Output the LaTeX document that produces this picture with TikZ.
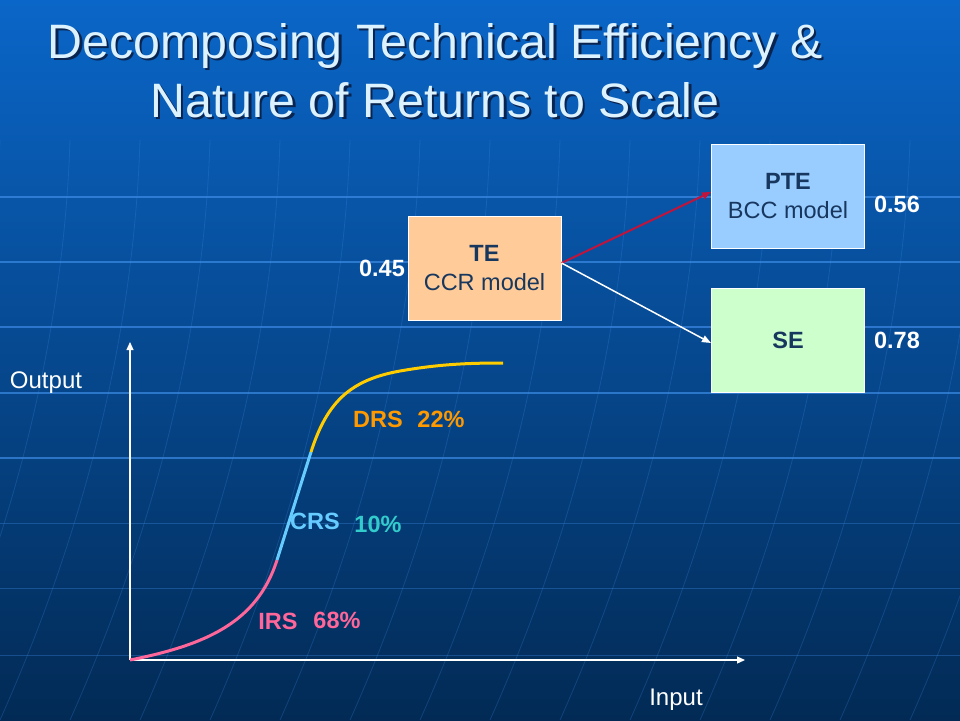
\documentclass[tikz,border=0pt]{standalone}
\usepackage{fontspec}
\setmainfont{Liberation Sans}
\usetikzlibrary{arrows.meta}
\definecolor{sininen1}{HTML}{0A66C8}
\definecolor{sininen2}{HTML}{04468F}
\definecolor{sininen3}{HTML}{022A55}
\definecolor{ruudukko}{HTML}{3D8BE6}
\definecolor{otsikko}{HTML}{DDF2FF}
\definecolor{varjo}{HTML}{0A2450}
\definecolor{persikka}{HTML}{FFCC99}
\definecolor{vaaleansininen}{HTML}{99CCFF}
\definecolor{vaaleanvihrea}{HTML}{CCFFCC}
\definecolor{tummansininen}{HTML}{17375E}
\definecolor{punainen}{HTML}{C0143C}
\definecolor{pinkki}{HTML}{FF6699}
\definecolor{taivas}{HTML}{66CCFF}
\definecolor{keltainen}{HTML}{FFCC00}
\definecolor{oranssi}{HTML}{FF9900}
\definecolor{turkoosi}{HTML}{33CCCC}
\newcommand{\varjoteksti}[1]{\makebox[0pt][l]{\hspace{2.5pt}\raisebox{-2.5pt}{\color{varjo}#1}}#1}

\tikzset{
	laatikko/.style={draw=white, line width=1pt, minimum width=153pt, minimum height=104pt,
		inner sep=0pt, text=tummansininen, align=center, font=\fontsize{23.5}{29.5}\selectfont},
	luku/.style={text=white, font=\fontsize{23.5}{28}\selectfont\bfseries},
	otsikkoteksti/.style={anchor=base, text=otsikko, font=\fontsize{48.3}{59}\selectfont},
	akseli/.style={white, line width=1.2pt, -{Triangle[length=8pt,width=7pt]}},
	akseliteksti/.style={text=white, font=\fontsize{24}{28}\selectfont},
	kaari/.style={line width=3pt},
	tyyppi/.style={font=\fontsize{23.5}{28}\selectfont\bfseries}
}

\begin{document}
\begin{tikzpicture}[x=1pt, y=-1pt]
				\useasboundingbox (0,0) rectangle (960,720);
				\shade[top color=sininen1, middle color=sininen2, bottom color=sininen3] (0,0) rectangle (960,720);
				% ruudukko
				\foreach \y in {197,262,327,393,458}
					\draw[ruudukko, line width=1.2pt, opacity=0.7] (0,\y) -- (960,\y);
				\foreach \y in {523,588,655}
					\draw[ruudukko, line width=1pt, opacity=0.35] (0,\y) -- (960,\y);
				\foreach \x in {0,70,...,1120}
					\draw[ruudukko, line width=0.8pt, opacity=0.25] (\x,140) .. controls (\x-6,327) and (\x-52,523) .. (\x-140,720);
				% otsikko
				\node[otsikkoteksti] (otsikko1) at (435,58) {\varjoteksti{Decomposing Technical Efficiency \&}};
				\node[otsikkoteksti] (otsikko2) at (435,117) {\varjoteksti{Nature of Returns to Scale}};
				% laatikot
				\node[laatikko, fill=persikka] (te) at (484.5,268) {\textbf{TE}\\CCR model};
				\node[laatikko, fill=vaaleansininen] (pte) at (788,196) {\textbf{PTE}\\BCC model};
				\node[laatikko, fill=vaaleanvihrea] (se) at (788,340) {\textbf{SE}};
				\node[luku] (teluku) at (382,268) {0.45};
				\node[luku] (pteluku) at (897,204) {0.56};
				\node[luku] (seluku) at (897,340) {0.78};
				\draw[punainen, line width=2pt, -{Triangle[length=9pt,width=7pt]}] ([yshift=5pt]te.east) -- ([yshift=4pt]pte.west);
				\draw[white, line width=1.5pt, -{Triangle[length=9pt,width=7pt]}] ([yshift=5pt]te.east) -- ([yshift=-3pt]se.west);
				% kuvaaja
				\coordinate (origo) at (130,660);
				\coordinate (ylos) at (130,342);
				\coordinate (oikea) at (745,660);
				\draw[akseli] (origo) -- (ylos);
				\draw[akseli] (origo) -- (oikea);
				\node[akseliteksti] (output) at (46,383) {Output};
				\node[akseliteksti] (input) at (676,700) {Input};
				\coordinate (irsloppu) at (277,560);
				\coordinate (crsloppu) at (311,452);
				\draw[kaari, pinkki] (origo) .. controls (205,645) and (257,623) .. (irsloppu);
				\draw[kaari, taivas] (irsloppu) -- (crsloppu);
				\draw[kaari, keltainen] (crsloppu) .. controls (327,402) and (350,380) .. (400,371)
					.. controls (440,364) and (470,363) .. (503,363);
				\node[tyyppi, text=oranssi] (drs) at (378,419) {DRS};
				\node[tyyppi, text=oranssi] (drsosuus) at (441,419) {22\%};
				\node[tyyppi, text=taivas] (crs) at (315,521) {CRS};
				\node[tyyppi, text=turkoosi] (crsosuus) at (378,524) {10\%};
				\node[tyyppi, text=pinkki] (irs) at (278,621) {IRS};
				\node[tyyppi, text=pinkki] (irsosuus) at (337,620) {68\%};
			\end{tikzpicture}
\end{document}
